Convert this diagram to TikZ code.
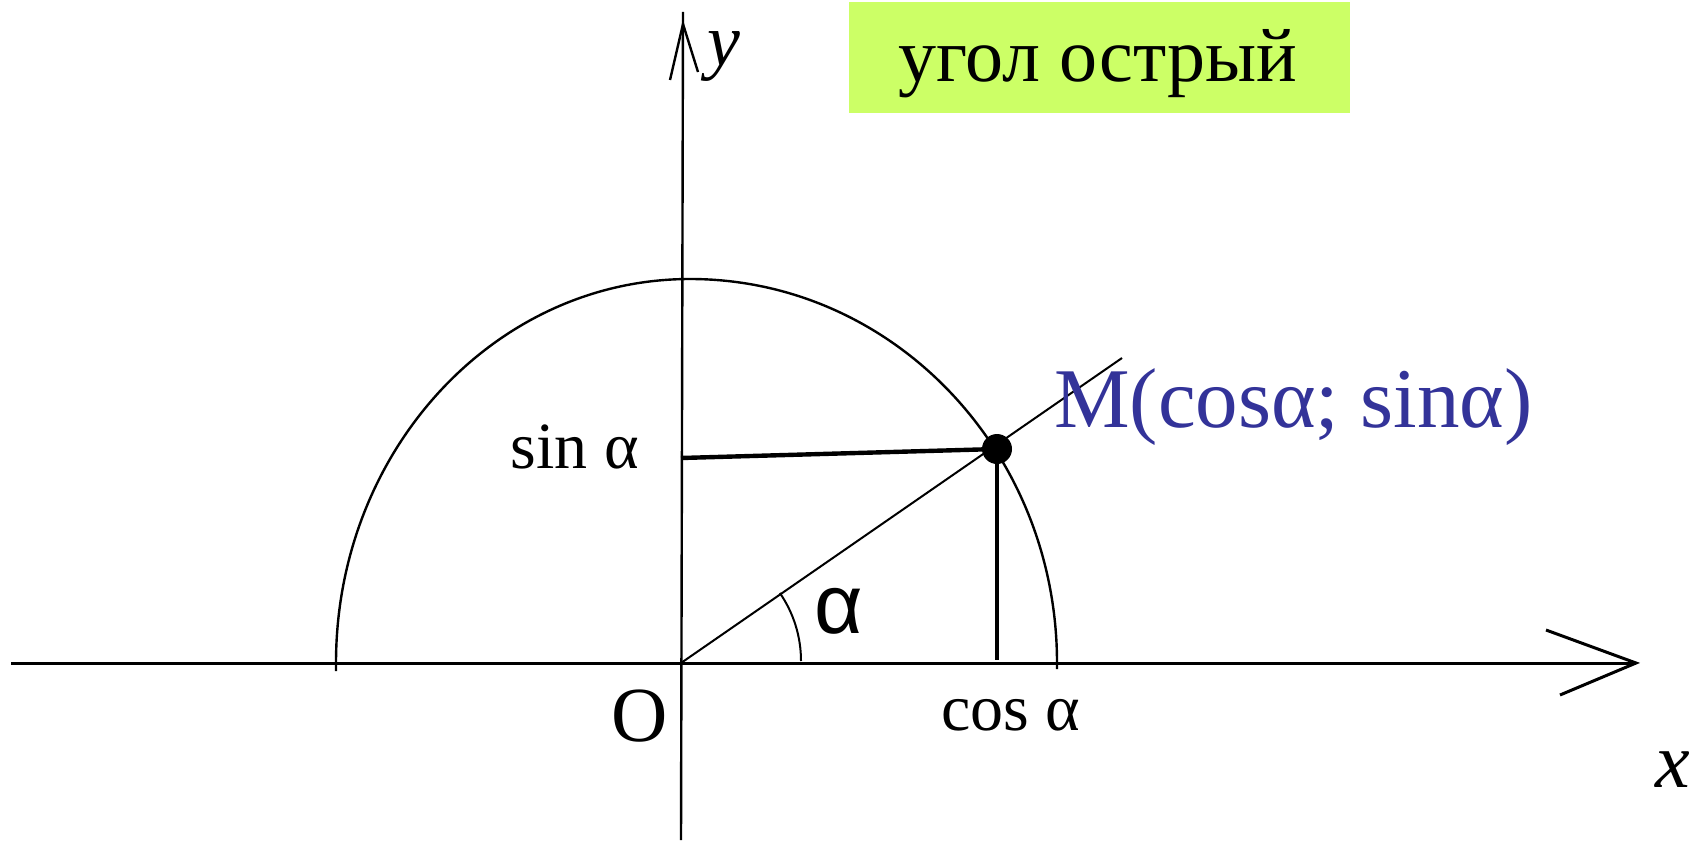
\documentclass[tikz,border=0pt]{standalone}
\usepackage{fontspec}
\setmainfont{Liberation Serif}
\newfontfamily\alphasans{Liberation Sans}
\definecolor{boxgreen}{RGB}{204,255,102}
\definecolor{mblue}{RGB}{51,51,153}
\begin{document}
\begin{tikzpicture}[x=0.5pt,y=-0.5pt,
  axis/.style={line width=1.5pt},
  arcline/.style={line width=1.2pt},
  thin ray/.style={line width=1pt},
  proj/.style={line width=2.2pt},
  lbl/.style={inner sep=0pt, anchor=base},
]
\useasboundingbox (0,0) rectangle (1701,840);
% coordinates
\coordinate (O) at (681,663);
\coordinate (xl) at (11,663);
\coordinate (xr) at (1636,663);
\coordinate (xw1) at (1546,630);
\coordinate (xw2) at (1560,695);
\coordinate (yt) at (683,12);
\coordinate (yb) at (681,840);
\coordinate (yh) at (683,24);
\coordinate (yw1) at (670,80);
\coordinate (yw2) at (698,72);
\coordinate (rayend) at (1122,358);
\coordinate (siny) at (681,458);
\coordinate (cosx) at (997,660);
\coordinate (arcL) at (336,671);
\coordinate (arcLa) at (336,663);
\coordinate (arcRa) at (1057,663);
\coordinate (arcR) at (1057,669);
\coordinate (angS) at (801,661);
% title box
\node (box) [fill=boxgreen, minimum width=250.5pt, minimum height=55.5pt, inner sep=0pt] at (1099.5,57.5) {};
\node (title) [lbl, font=\fontsize{38}{40}\selectfont] at (1098,82) {угол острый};
% axes
\draw[axis] (xl) -- (xr);
\draw[axis] (xw1) -- (xr) -- (xw2);
\draw[line width=1.2pt] (yb) -- (yt);
\draw[line width=1.2pt] (yw1) -- (yh) -- (yw2);
% semicircle
\draw[arcline] (arcL) -- (arcLa) arc[start angle=180, end angle=270, x radius=354, y radius=384]
  arc[start angle=270, end angle=360, x radius=367, y radius=384] -- (arcR);
% point M
\node (M) [circle, fill=black, minimum size=15pt, inner sep=0pt] at (997,449) {};
% ray and projections
\draw[thin ray] (O) -- (rayend);
\draw[proj] (siny) -- (M.center);
\draw[proj] (M.center) -- (cosx);
% angle arc
\draw[thin ray] (angS) arc[start angle=0, end angle=-34.5, radius=120];
% labels
\node (ylab) [lbl, font=\fontsize{37}{40}\selectfont\itshape] at (724,66) {y};
\node (xlab) [lbl, font=\fontsize{39}{40}\selectfont\itshape] at (1673,787) {x};
\node (Olab) [lbl, font=\fontsize{39}{40}\selectfont] at (640,741) {O};
\node (sinlab) [lbl, font=\fontsize{33}{40}\selectfont] at (575,468) {sin α};
\node (coslab) [lbl, font=\fontsize{33}{40}\selectfont] at (1011,730) {cos α};
\node (alab) [lbl, font=\fontsize{42}{44}\selectfont\alphasans] at (839,633) {α};
\node (Mlab) [lbl, text=mblue, font=\fontsize{42.5}{44}\selectfont] at (1293.5,427) {M(cosα; sinα)};
\end{tikzpicture}
\end{document}
